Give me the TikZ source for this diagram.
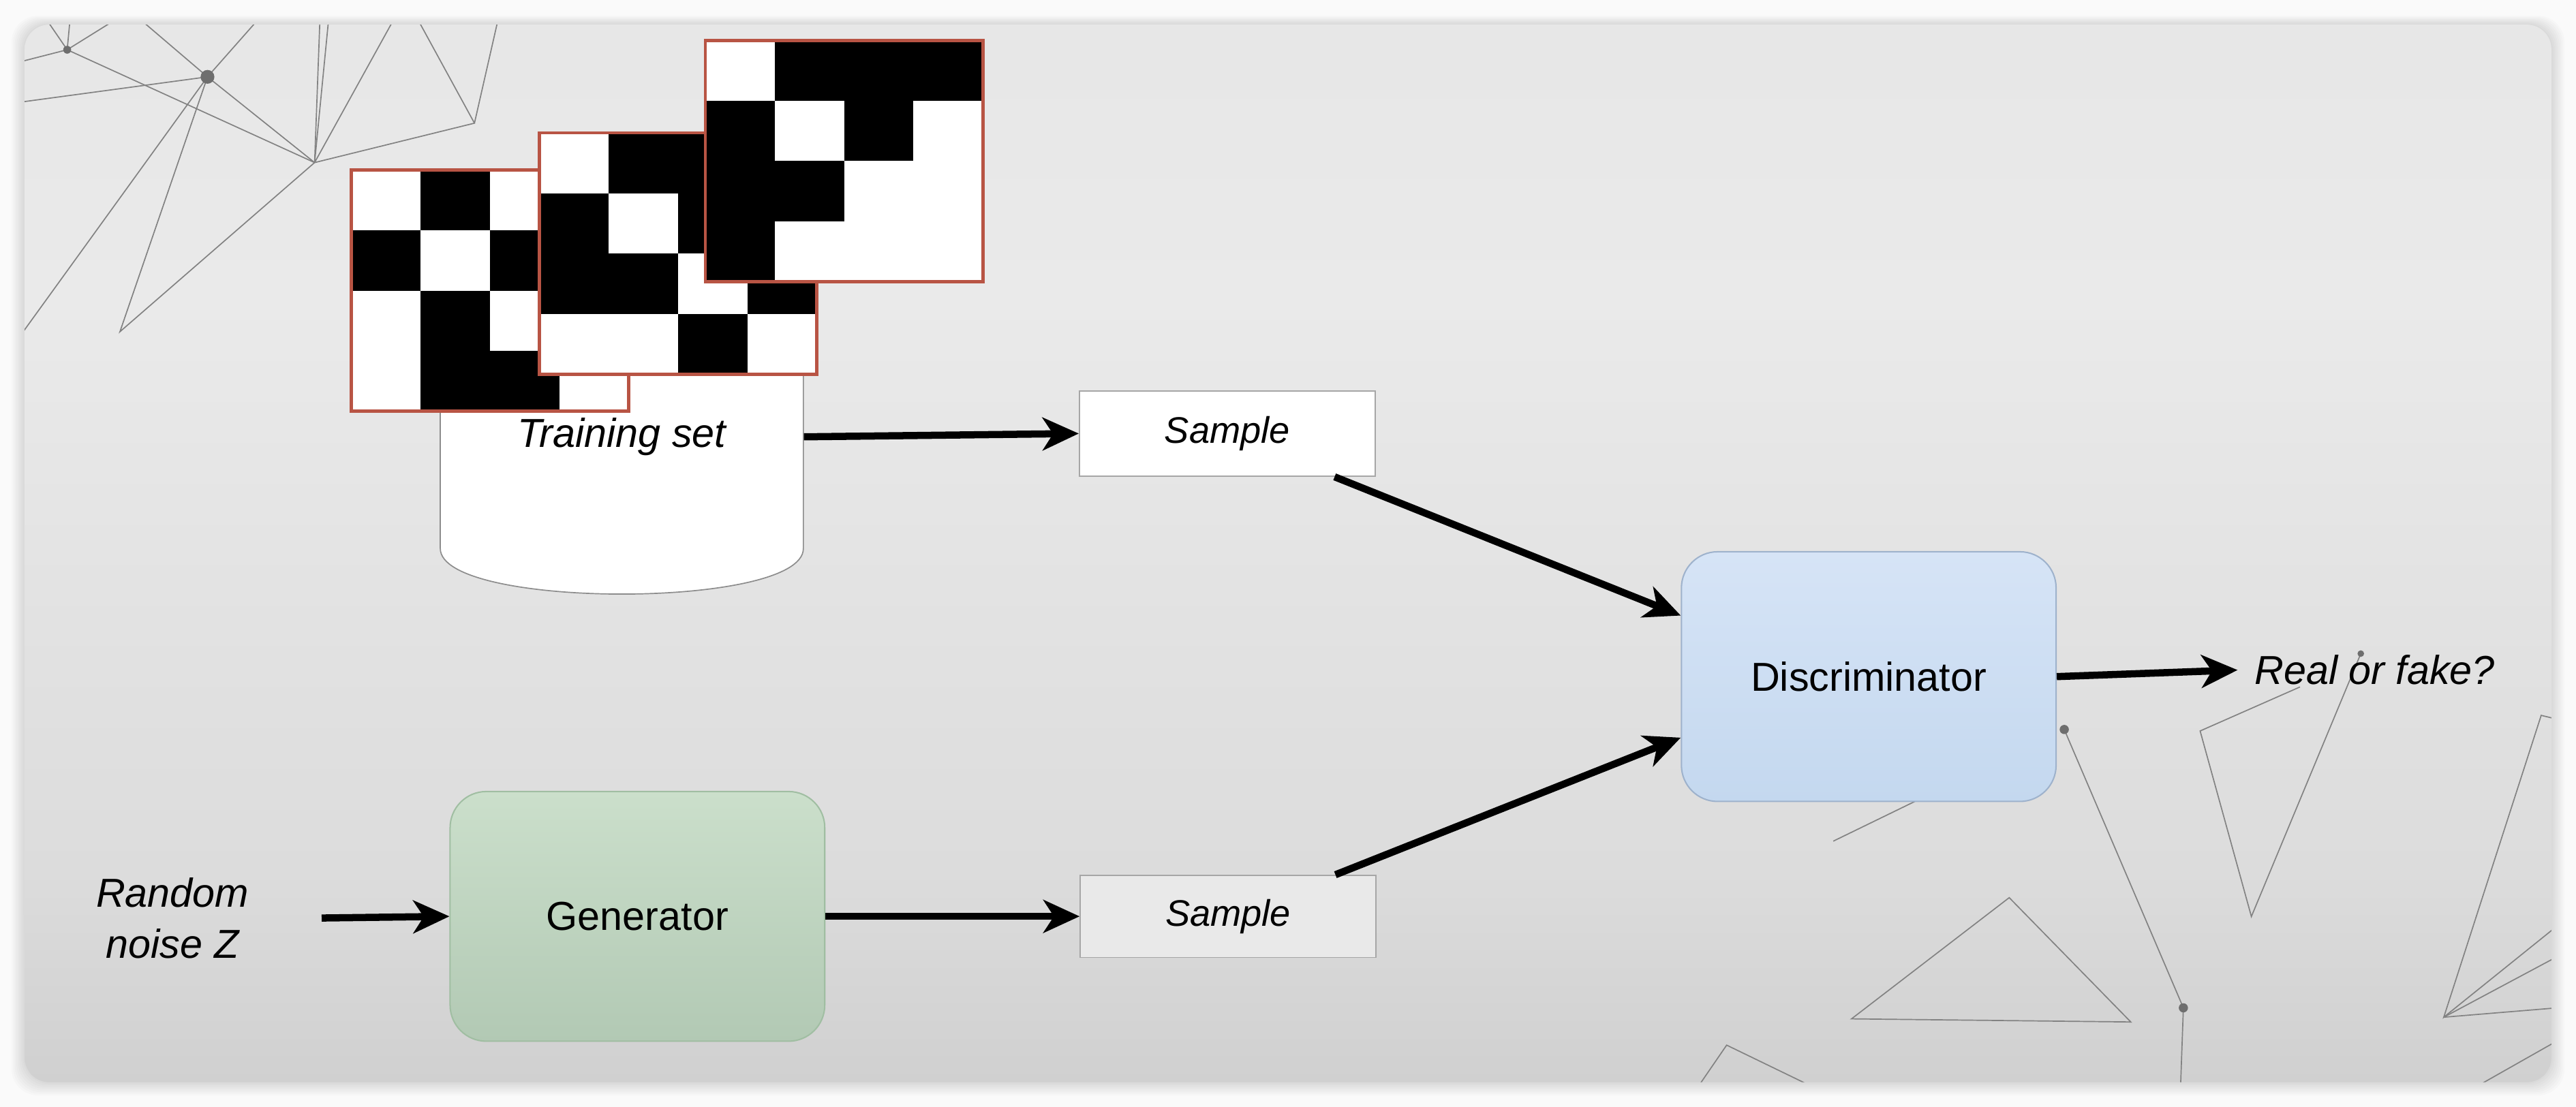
\documentclass[tikz,border=0pt]{standalone}
\usepackage{fontspec}
\setmainfont{Liberation Sans}
\usetikzlibrary{arrows.meta}

\definecolor{gridred}{RGB}{184,84,68}
\definecolor{meshgray}{RGB}{130,130,130}
\definecolor{discTop}{RGB}{214,228,246}
\definecolor{discBot}{RGB}{196,216,239}
\definecolor{discLine}{RGB}{158,178,204}
\definecolor{genTop}{RGB}{203,223,203}
\definecolor{genBot}{RGB}{178,201,180}
\definecolor{genLine}{RGB}{160,190,162}
\definecolor{sampGray}{RGB}{233,233,233}
\definecolor{cardA}{RGB}{178,178,178}
\definecolor{cardB}{RGB}{196,196,196}
\definecolor{cardC}{RGB}{220,220,220}
\definecolor{cardD}{RGB}{234,234,234}
\definecolor{cardE}{RGB}{224,224,224}

\pgfdeclareverticalshading{cardshade}{100bp}{color(0bp)=(cardA); color(15bp)=(cardB); color(35bp)=(cardC); color(62bp)=(cardD); color(100bp)=(cardE)}

\tikzstyle{mesh}=[draw=meshgray, line width=0.5pt]
\tikzstyle{knot}=[fill=meshgray!85!black]
\tikzstyle{box}=[rectangle, draw=black!35, line width=0.5pt, minimum width=4.5cm, minimum height=1.3cm, font=\fontsize{16}{19}\selectfont\itshape]
\tikzstyle{block}=[rectangle, rounded corners=0.55cm, line width=0.6pt, minimum width=5.7cm, minimum height=3.8cm, font=\fontsize{17.5}{21}\selectfont]
\tikzstyle{caption}=[font=\fontsize{17.5}{22}\selectfont\itshape, inner sep=0pt]
\tikzstyle{flow}=[line width=3.1pt, -{Stealth[length=0.55cm, width=0.5cm, inset=0.16cm]}]

% one 4x4 picture of the training set: x, y of the top left corner, black cells
\newcommand{\pixgrid}[3]{%
  \fill[white] (#1,#2) rectangle ++(169,147);
  \foreach \c/\r in {#3}
    \fill[black] ({#1+\c*42.25},{#2+\r*36.75}) rectangle ++(42.25,36.75);
  \draw[gridred, line width=1.4pt] (#1,#2) rectangle ++(169,147);
}

\begin{document}
\begin{tikzpicture}[x=0.025cm, y=-0.025cm]
  \useasboundingbox (0,0) rectangle (1568,674);
  \fill[white!98!black] (0,0) rectangle (1568,674);

  % card with its shadow
  \foreach \s in {2,4,...,16}
    \fill[black, opacity=0.016, rounded corners=0.4cm] (15-\s/2,15-\s/3) rectangle (1553+\s/2,659+\s/2);
  \shade[shading=cardshade, rounded corners=0.375cm] (15,15) rectangle (1553,659);

  \begin{scope}
    \clip[rounded corners=0.375cm] (15,15) rectangle (1553,659);
    % network in the top left corner
    \coordinate (d1) at (40.9,30.3);
    \coordinate (d2) at (126.3,46.8);
    \coordinate (v1) at (191.5,99);
    \coordinate (v2) at (288.8,75);
    \coordinate (v3) at (73,202);
    \draw[mesh] (5,39.5) -- (d1) -- (27,10);
    \draw[mesh] (d1) -- (42.8,10);
    \draw[mesh] (d1) -- (73.5,10);
    \draw[mesh] (d1) -- (v1);
    \draw[mesh] (5,63.2) -- (d2) -- (83.2,10);
    \draw[mesh] (d2) -- (158.8,10);
    \draw[mesh] (d2) -- (5,214.6);
    \draw[mesh] (d2) -- (v3) -- (v1) -- (d2);
    \draw[mesh] (v1) -- (194.8,10);
    \draw[mesh] (v1) -- (200.2,10);
    \draw[mesh] (v1) -- (240.7,10);
    \draw[mesh] (v1) -- (v2) -- (253.3,10);
    \draw[mesh] (v2) -- (303.6,10);
    \fill[knot] (d1) circle (2.4);
    \fill[knot] (d2) circle (4.2);

    % network in the bottom right corner
    \coordinate (b1) at (1256.5,444.2);
    \coordinate (b2) at (1329,613.7);
    \coordinate (b3) at (1339.2,445.1);
    \coordinate (b4) at (1370.4,558.1);
    \coordinate (b5) at (1437,398);
    \coordinate (b6) at (1546.8,435.6);
    \coordinate (b7) at (1487.5,619.4);
    \draw[mesh] (b1) -- (b2) -- (1327,670);
    \draw[mesh] (1223,546.6) -- (1127,620.4) -- (1297,622.3) -- cycle;
    \draw[mesh] (1115.9,512.2) -- (1180,481);
    \draw[mesh] (1030,667) -- (1051,636.4) -- (1110,665);
    \draw[mesh] (1400,418.3) -- (b3) -- (b4) -- (b5);
    \draw[mesh] (1565,440) -- (b6) -- (b7) -- (1565,557);
    \draw[mesh] (b7) -- (1565,578);
    \draw[mesh] (b7) -- (1565,613);
    \draw[mesh] (1505,663) -- (1565,629);
    \fill[knot] (b1) circle (2.8);
    \fill[knot] (b2) circle (2.8);
    \fill[knot] (b5) circle (2);
  \end{scope}

  % training set
  \filldraw[fill=white, draw=black!45, line width=0.5pt] (268,150) -- (268,334)
    .. controls (268,371) and (489,371) .. (489,334) -- (489,150) -- cycle;
  \pixgrid{213.7}{103.5}{1/0, 0/1, 2/1, 1/2, 1/3, 2/3}
  \pixgrid{328.2}{80.9}{1/0, 2/0, 0/1, 2/1, 0/2, 1/2, 3/2, 2/3}
  \pixgrid{429.3}{24.6}{1/0, 2/0, 3/0, 0/1, 2/1, 0/2, 1/2, 0/3}

  \node[caption, minimum width=5.525cm] (tsname) at (378.5,266) {Training set};
  \node[box, fill=white] (samp1) at (747,264) {Sample};
  \node[box, fill=sampGray, minimum height=1.25cm] (samp2) at (747.5,558) {Sample};
  \node[block, top color=discTop, bottom color=discBot, draw=discLine] (disc) at (1137.5,412) {Discriminator};
  \node[block, top color=genTop, bottom color=genBot, draw=genLine] (gen) at (388,558) {Generator};
  \node[caption, align=center] (noise) at (105,559) {Random\\noise Z};
  \node[caption, anchor=west] (verdict) at (1372,408) {Real or fake?};

  \draw[flow] (tsname.east) -- (samp1.west);
  \draw[flow] ([xshift=-0.625cm]samp1.south east) -- (disc.162);
  \draw[flow] ([xshift=1.1cm]noise.east) -- (gen.west);
  \draw[flow] (gen.east) -- (samp2.west);
  \draw[flow] ([xshift=-0.625cm]samp2.north east) -- (disc.198);
  \draw[flow] (disc.east) -- ([xshift=-0.25cm]verdict.west);
\end{tikzpicture}
\end{document}
